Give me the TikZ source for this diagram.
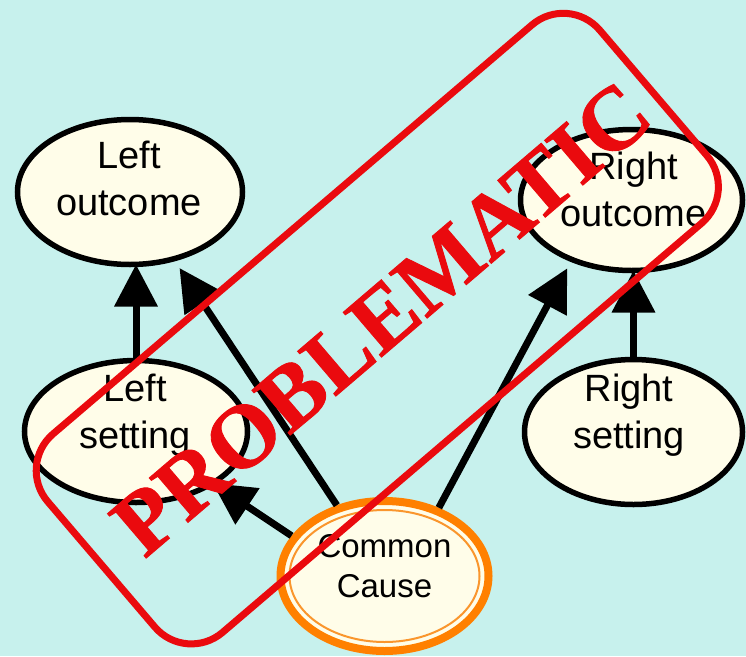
\documentclass[tikz,border=0pt]{standalone}
\usepackage{fontspec}
\setmainfont{Liberation Sans}
\newfontfamily\stampfont{Liberation Serif}[BoldFeatures={FakeBold=1}]
\usetikzlibrary{arrows.meta,shapes.geometric}
\definecolor{bgaqua}{RGB}{199,241,237}
\definecolor{cream}{RGB}{255,253,233}
\definecolor{stampred}{RGB}{234,10,14}
\definecolor{ringorange}{RGB}{255,128,0}
\definecolor{ringpale}{RGB}{250,150,45}

\begin{document}
\begin{tikzpicture}[x=1pt,y=-1pt,
  oval/.style={ellipse, draw=black, line width=5.5pt, fill=cream,
    inner sep=0pt, outer sep=0pt},
  ccoval/.style={ellipse, draw=ringorange, line width=8pt, fill=cream,
    inner sep=0pt, outer sep=0pt,
    minimum width=208pt, minimum height=150pt},
  ccring/.style={draw=ringpale, line width=2pt},
  txt/.style={align=center, text=black, inner sep=0pt,
    font=\fontsize{38}{47}\selectfont},
  cctxt/.style={align=center, text=black, inner sep=0pt,
    font=\fontsize{33}{40}\selectfont},
  arr/.style={draw=black, line width=7pt,
    -{Triangle[length=42pt,width=42pt]}},
  stampframe/.style={rectangle, draw=stampred, line width=7pt,
    rounded corners=48pt, inner sep=0pt, rotate=40.5,
    minimum width=726pt, minimum height=261pt},
  stamptext/.style={text=stampred, inner sep=0pt, rotate=40.5,
    font={\stampfont\bfseries\fontsize{90}{100}\selectfont}}
]
% page and background
\useasboundingbox (0,0) rectangle (746,656);
\fill[bgaqua] (0,0) rectangle (746,656);

% the five variables
\node[oval, minimum width=225pt, minimum height=145pt,
  label={[txt, xshift=-1pt, yshift=13.5pt]center:Left\\outcome}]
  (lo) at (130,192) {};
\node[oval, minimum width=222pt, minimum height=141pt,
  label={[txt, xshift=2pt, yshift=11pt]center:Right\\outcome}]
  (ro) at (631.5,200) {};
\node[oval, minimum width=223pt, minimum height=142pt,
  label={[txt, xshift=-1pt, yshift=16pt]center:Left\\setting}]
  (ls) at (136,431.5) {};
\node[oval, minimum width=218pt, minimum height=145pt,
  label={[txt, xshift=-4.5pt, yshift=17pt]center:Right\\setting}]
  (rs) at (633.5,432) {};
\node[ccoval,
  label={[cctxt, yshift=9.5pt]center:Common\\Cause}]
  (cc) at (384.5,576) {};
\draw[ccring] (cc.center) ellipse [x radius=95, y radius=66];

% causal arrows
\draw[arr] (ls.north) -- (ls.north |- lo.south);
\draw[arr] (rs.north) -- (rs.north |- ro.south);
\draw[arr, shorten <=4pt, shorten >=11pt] (cc.124.5) -- (lo.303.3);
\draw[arr, shorten <=4pt] (cc.157.6) -- (ls.-34.3);
\draw[arr, shorten <=4pt, shorten >=10pt] (cc.51.3) -- (ro.225.6);

% the stamp laid over everything
\node[stampframe] (frame) at (377.3,328.6) {};
\node[stamptext] (stamp) at (381.5,318.5) {PROBLEMATIC};
\end{tikzpicture}
\end{document}
